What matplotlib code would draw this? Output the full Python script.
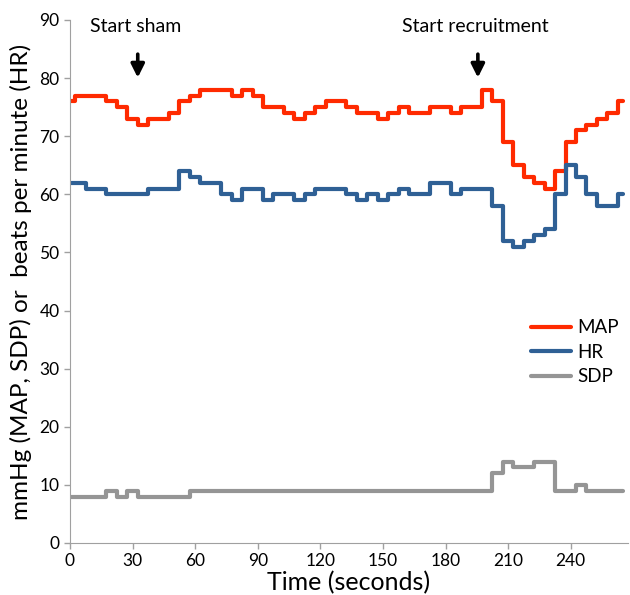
import matplotlib
matplotlib.use("Agg")
import matplotlib.pyplot as plt
import numpy as np

plt.rcParams['font.family'] = ['Lato', 'DejaVu Sans']

# samples every 5 seconds
time_s = np.arange(0, 270, 5)

map_vals = [76, 77, 77, 77, 76, 75, 73, 72, 73, 73,
            74, 76, 77, 78, 78, 78, 77, 78, 77, 75,
            75, 74, 73, 74, 75, 76, 76, 75, 74, 74,
            73, 74, 75, 74, 74, 75, 75, 74, 75, 75,
            78, 76, 69, 65, 63, 62, 61, 64, 69, 71,
            72, 73, 74, 76]
hr_vals = [62, 62, 61, 61, 60, 60, 60, 60, 61, 61,
           61, 64, 63, 62, 62, 60, 59, 61, 61, 59,
           60, 60, 59, 60, 61, 61, 61, 60, 59, 60,
           59, 60, 61, 60, 60, 62, 62, 60, 61, 61,
           61, 58, 52, 51, 52, 53, 54, 60, 65, 63,
           60, 58, 58, 60]
sdp_vals = [8, 8, 8, 8, 9, 8, 9, 8, 8, 8,
            8, 8, 9, 9, 9, 9, 9, 9, 9, 9,
            9, 9, 9, 9, 9, 9, 9, 9, 9, 9,
            9, 9, 9, 9, 9, 9, 9, 9, 9, 9,
            9, 12, 14, 13, 13, 14, 14, 9, 9, 10,
            9, 9, 9, 9]

events = ["Start sham", "Start recruitment"]
event_times = [32.5, 195.5]

fig = plt.figure(figsize=(6.3, 5.95), dpi=100)
ax = fig.add_axes([0.111, 0.0874, 0.886, 0.879])

line_kw = dict(drawstyle='steps-mid', lw=3, solid_joinstyle='round', solid_capstyle='round')
ax.plot(time_s, map_vals, color='#FF2A00', label='MAP', **line_kw)
ax.plot(time_s, hr_vals, color='#2F6095', label='HR', **line_kw)
ax.plot(time_s, sdp_vals, color='#959595', label='SDP', **line_kw)

for name, t in zip(events, event_times):
    ax.annotate('', xy=(t, 79.6), xytext=(t, 84.6),
                arrowprops=dict(arrowstyle='-|>,head_width=0.4,head_length=0.8',
                                color='black', lw=2.6))
    ax.text(t - 1, 88.8, name, ha='center', va='center', fontsize=14)

ax.set_xlim(0, 267.5)
ax.set_ylim(0, 90)
ax.set_xticks(np.arange(0, 241, 30))
ax.set_yticks(np.arange(0, 91, 10))
ax.tick_params(axis='both', labelsize=12.5, direction='out', length=4,
               color='#A0A0A0', width=1)
for s in ['top', 'right']:
    ax.spines[s].set_visible(False)
for s in ['left', 'bottom']:
    ax.spines[s].set_color('#A0A0A0')

ax.set_xlabel('Time (seconds)', fontsize=18, labelpad=1)
ax.set_ylabel('mmHg (MAP, SDP) or  beats per minute (HR)', fontsize=17.5, labelpad=5)

leg = ax.legend(loc='upper left', bbox_to_anchor=(0.812, 0.442), frameon=False,
                fontsize=13.5, handlelength=2.15, labelspacing=0.4, handletextpad=0.35,
                borderaxespad=0)

fig.savefig('out.png', dpi=100)
